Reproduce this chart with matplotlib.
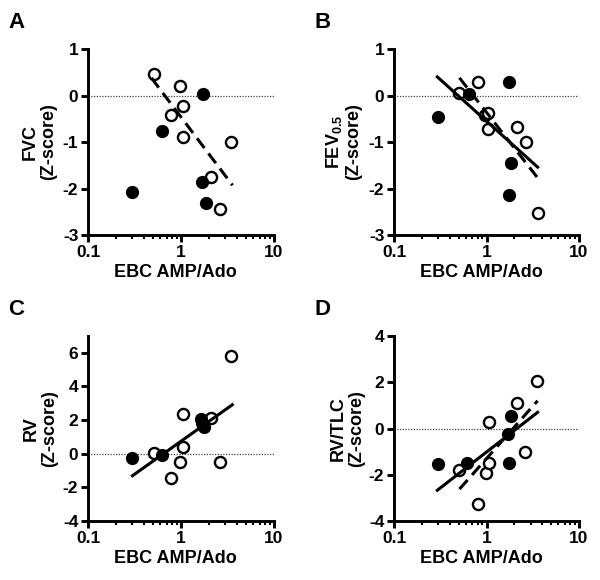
import matplotlib
matplotlib.use('Agg')
import matplotlib.pyplot as plt
from matplotlib.ticker import LogLocator, NullFormatter, FixedLocator

plt.rcParams.update({
    'font.family': 'Liberation Sans',
    'font.weight': 'bold',
    'mathtext.fontset': 'custom',
    'mathtext.rm': 'Liberation Sans:bold',
    'mathtext.bf': 'Liberation Sans:bold',
    'mathtext.it': 'Liberation Sans:bold',
})

# ---- data ----
# Panel A: FVC
a_open_x = [0.51, 0.975, 1.04, 0.79, 1.04, 3.45, 2.10, 2.62]
a_open_y = [0.47, 0.21, -0.23, -0.41, -0.90, -1.01, -1.75, -2.43]
a_fill_x = [1.73, 0.62, 0.30, 1.68, 1.86]
a_fill_y = [0.04, -0.76, -2.08, -1.87, -2.32]
a_dash_x = [0.48, 3.58]
a_dash_y = [0.38, -1.93]

# Panel B: FEV0.5
b_open_x = [0.51, 0.80, 0.975, 1.05, 1.04, 2.14, 2.70, 3.57]
b_open_y = [0.05, 0.30, -0.42, -0.38, -0.72, -0.68, -1.01, -2.53]
b_fill_x = [0.30, 0.64, 1.75, 1.86, 1.73]
b_fill_y = [-0.46, 0.04, 0.30, -1.45, -2.14]
b_line_x = [0.294, 3.57]
b_line_y = [0.40, -1.54]
b_dash_x = [0.51, 3.57]
b_dash_y = [0.38, -1.77]

# Panel C: RV
c_open_x = [0.51, 0.78, 0.97, 1.04, 1.04, 2.11, 2.62, 3.44]
c_open_y = [0.06, -1.47, -0.47, 2.35, 0.42, 2.12, -0.47, 5.80]
c_fill_x = [0.30, 0.63, 1.66, 1.75, 1.70]
c_fill_y = [-0.27, -0.10, 2.05, 1.58, 1.80]
c_line_x = [0.30, 3.56]
c_line_y = [-1.31, 2.91]

# Panel D: RV/TLC
d_open_x = [0.51, 0.80, 0.98, 1.06, 1.06, 2.15, 2.62, 3.50]
d_open_y = [-1.80, -3.25, -1.94, 0.27, -1.48, 1.10, -1.00, 2.04]
d_fill_x = [0.30, 0.62, 1.71, 1.85, 1.75]
d_fill_y = [-1.54, -1.48, -0.23, 0.52, -1.48]
d_line_x = [0.294, 3.57]
d_line_y = [-2.67, 0.70]
d_dash_x = [0.51, 3.57]
d_dash_y = [-2.62, 1.20]


def style_panel(ax, ylim, yticks, ylabel, letter, ylab_x):
    ax.set_xscale('log')
    ax.set_xlim(0.1, 10)
    ax.set_ylim(*ylim)
    ax.xaxis.set_major_locator(FixedLocator([0.1, 1, 10]))
    ax.set_xticklabels(['0.1', '1', '10'])
    ax.xaxis.set_minor_locator(LogLocator(base=10, subs=range(2, 10)))
    ax.xaxis.set_minor_formatter(NullFormatter())
    ax.set_yticks(yticks)
    ax.set_yticklabels([str(t) for t in yticks])
    for s in ['top', 'right']:
        ax.spines[s].set_visible(False)
    for s in ['left', 'bottom']:
        ax.spines[s].set_linewidth(2.1)
    ax.tick_params(which='major', length=5, width=2.1, labelsize=12.5, pad=2)
    ax.tick_params(which='minor', length=3, width=1.5)
    ax.axhline(0, color='#444444', lw=0.9, ls=(0, (1, 1.2)), zorder=1)
    ax.set_xlabel('EBC AMP/Ado', fontsize=13, fontweight='bold')
    ax.xaxis.set_label_coords(0.47, -0.155)
    ax.set_ylabel(ylabel, fontsize=13, fontweight='bold', linespacing=1.1)
    ax.yaxis.set_label_coords(ylab_x, 0.5)
    ax.text(-0.43, 1.2, letter, transform=ax.transAxes, fontsize=16,
            fontweight='bold', ha='left', va='top')


def draw_points(ax, ox, oy, fx, fy):
    ax.plot(ox, oy, 'o', ms=8, mfc='white', mec='black', mew=1.7, zorder=3, clip_on=False)
    ax.plot(fx, fy, 'o', ms=8.5, mfc='black', mec='black', zorder=3, clip_on=False)


fig = plt.figure(figsize=(6, 5.8), dpi=100)
ax_a = fig.add_axes([0.1467, 0.5948, 0.31, 0.3207])
ax_b = fig.add_axes([0.6567, 0.5948, 0.3083, 0.3207])
ax_c = fig.add_axes([0.1467, 0.1017, 0.31, 0.319])
ax_d = fig.add_axes([0.6567, 0.1017, 0.3083, 0.319])

# A
draw_points(ax_a, a_open_x, a_open_y, a_fill_x, a_fill_y)
ax_a.plot(a_dash_x, a_dash_y, color='black', lw=2.2, ls=(0, (4, 2.2)), zorder=4)
style_panel(ax_a, (-3, 1), [-3, -2, -1, 0, 1], 'FVC\n(Z-score)', 'A', -0.165)

# B
draw_points(ax_b, b_open_x, b_open_y, b_fill_x, b_fill_y)
ax_b.plot(b_line_x, b_line_y, color='black', lw=2.2, zorder=4)
ax_b.plot(b_dash_x, b_dash_y, color='black', lw=2.2, ls=(0, (4, 2.2)), zorder=4)
style_panel(ax_b, (-3, 1), [-3, -2, -1, 0, 1], 'FEV$_{0.5}$\n(Z-score)', 'B', -0.17)

# C
draw_points(ax_c, c_open_x, c_open_y, c_fill_x, c_fill_y)
ax_c.plot(c_line_x, c_line_y, color='black', lw=2.2, zorder=4)
style_panel(ax_c, (-4, 7), [-4, -2, 0, 2, 4, 6], 'RV\n(Z-score)', 'C', -0.16)

# D
draw_points(ax_d, d_open_x, d_open_y, d_fill_x, d_fill_y)
ax_d.plot(d_line_x, d_line_y, color='black', lw=2.2, zorder=4)
ax_d.plot(d_dash_x, d_dash_y, color='black', lw=2.2, ls=(0, (4, 2.2)), zorder=4)
style_panel(ax_d, (-4, 4), [-4, -2, 0, 2, 4], 'RV/TLC\n(Z-score)', 'D', -0.157)

plt.savefig('out.png', dpi=100)
plt.close()
